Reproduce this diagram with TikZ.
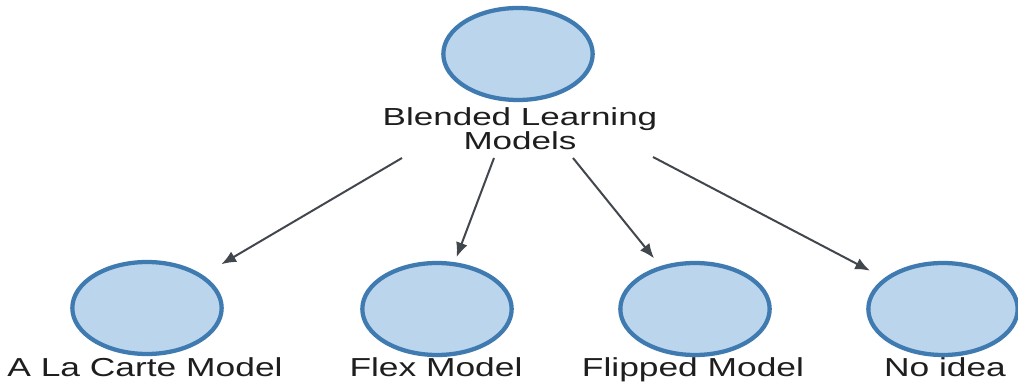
\documentclass[tikz,border=0pt]{standalone}
\usepackage{fontspec}
\setmainfont{Liberation Sans}
\usetikzlibrary{arrows.meta,shapes.geometric}
\definecolor{ringblue}{HTML}{3F7AB0}
\definecolor{fillblue}{HTML}{BBD5EC}
\definecolor{arrowgray}{HTML}{42474D}
\definecolor{txt}{HTML}{1E1E1E}
\newcommand{\wideText}[2][1.36]{\scalebox{#1}[1]{#2}}
\begin{document}
\begin{tikzpicture}[x=0.75pt,y=-0.75pt,
  circ/.style={ellipse,draw=ringblue,line width=3.2pt,fill=fillblue,
    minimum width=112pt,minimum height=69pt,inner sep=0pt},
  lbl/.style={font=\fontsize{19.5pt}{17.5pt}\selectfont,text=txt,inner sep=0pt},
  conn/.style={draw=arrowgray,line width=1.5pt,-{Latex[length=11pt,width=9pt]}}]
\useasboundingbox[fill=white] (0,0) rectangle (1018,388);
% nodes
\node[circ] (top) at (518,54) {};
\node[lbl,font=\fontsize{18.5pt}{18pt}\selectfont,align=center,anchor=north] (toplbl) at (520,107)
  {\wideText[1.42]{Blended Learning}\\\wideText[1.42]{Models}};
\node[circ] (a) at (147,308) {};
\node[circ] (b) at (437,309) {};
\node[circ] (c) at (695,309) {};
\node[circ] (d) at (943,309) {};
\node[lbl,anchor=base] (albl) at (145,377) {\wideText{A La Carte Model}};
\node[lbl,anchor=base] (blbl) at (436,377) {\wideText{Flex Model}};
\node[lbl,anchor=base] (clbl) at (693,377) {\wideText{Flipped Model}};
\node[lbl,anchor=base] (dlbl) at (945,377) {\wideText{No idea}};
% connector start points under the label
\coordinate (s1) at (402,158);
\coordinate (s2) at (494,158);
\coordinate (s3) at (573,158);
\coordinate (s4) at (653,157);
\draw[conn,shorten >=16pt] (s1) -- (a);
\draw[conn,shorten >=4pt] (s2) -- (b);
\draw[conn,shorten >=7.5pt] (s3) -- (c);
\draw[conn,shorten >=12pt] (s4) -- (d);
\end{tikzpicture}
\end{document}
